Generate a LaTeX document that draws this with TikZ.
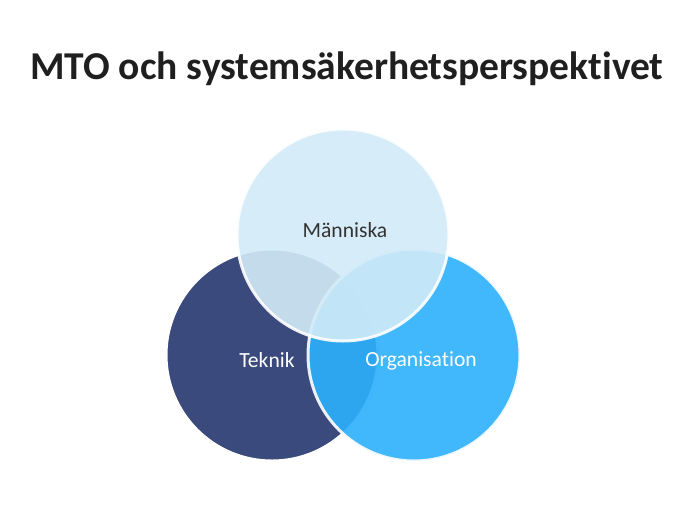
\documentclass[tikz,border=0pt]{standalone}
\usepackage{fontspec}
\setmainfont[Ligatures=NoCommon]{Carlito}
\definecolor{navy}{HTML}{3A4A7C}
\definecolor{orgblue}{HTML}{2CAFFC}
\definecolor{manlight}{HTML}{D2EBF8}
\definecolor{labelgray}{HTML}{333333}
\tikzset{
  venn/.style={circle, minimum size=212pt, inner sep=0pt, draw=white, line width=3pt, fill opacity=0.9, draw opacity=0.9, text opacity=1},
  lbl/.style={font=\fontsize{21.6}{24}\selectfont}
}
\begin{document}
\begin{tikzpicture}[x=1pt,y=-1pt]
\useasboundingbox (0,0) rectangle (700,507);
\node[font=\bfseries\fontsize{39.5}{44}\selectfont, text=black!88] (title) at (347,69) {MTO och systemsäkerhetsperspektivet};
\node[venn, fill=navy, fill opacity=1, draw opacity=1] (tek) at (272,355) {};
\node[venn, fill=orgblue] (org) at (414,355) {};
\node[venn, fill=manlight] (man) at (343,235) {};
\node[lbl, text=labelgray] (tman) at (345,230) {Människa};
\node[lbl, text=white] (ttek) at (267,360) {Teknik};
\node[lbl, text=white] (torg) at (421,361) {Organisation};
\end{tikzpicture}
\end{document}
